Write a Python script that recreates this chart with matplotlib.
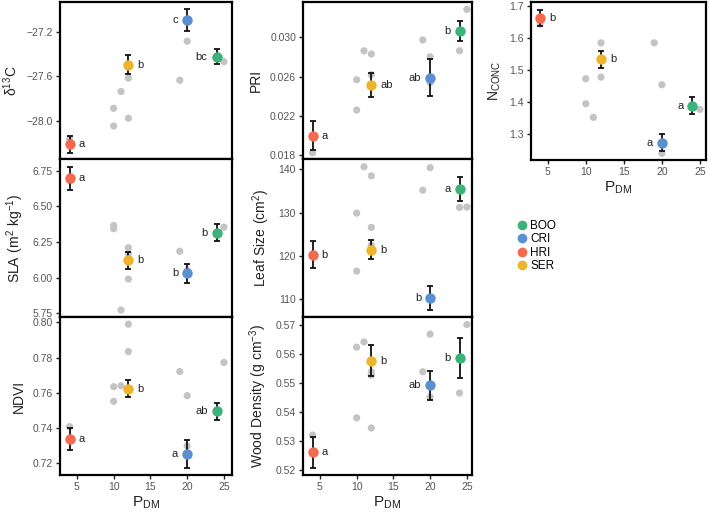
import matplotlib
matplotlib.use("Agg")
import matplotlib.pyplot as plt
from matplotlib.lines import Line2D

plt.rcParams['font.family'] = ['Liberation Sans', 'DejaVu Sans']
plt.rcParams['mathtext.fontset'] = 'custom'
plt.rcParams['mathtext.rm'] = 'Liberation Sans'

# groups: HRI, SER, CRI, BOO
groups = ['HRI', 'SER', 'CRI', 'BOO']
group_x = [4, 12, 20, 24]
colors = {'BOO': '#3bb27a', 'CRI': '#5a8fd0', 'HRI': '#f46a50', 'SER': '#eeb42a'}

# d13C
d13c_mean = [-28.214, -27.494, -27.089, -27.421]
d13c_se = [0.076, 0.085, 0.098, 0.067]
d13c_let = ['a', 'b', 'c', 'bc']
d13c_side = ['r', 'r', 'l', 'l']
d13c_px = [4, 12, 11, 10, 12, 10, 20, 19, 25]
d13c_py = [-28.17, -27.615, -27.736, -27.888, -27.978, -28.048, -27.281, -27.634, -27.466]

# PRI
pri_mean = [0.01997, 0.02514, 0.02588, 0.03067]
pri_se = [0.0015, 0.00124, 0.00187, 0.00104]
pri_let = ['a', 'ab', 'ab', 'b']
pri_side = ['r', 'r', 'l', 'l']
pri_px = [4, 10, 10, 11, 12, 12, 19, 20, 20, 24, 25]
pri_py = [0.01823, 0.02568, 0.02259, 0.02863, 0.0283, 0.0262, 0.02973, 0.02802, 0.02537, 0.02863, 0.03285]

# N concentration
n_mean = [1.6635, 1.534, 1.2729, 1.3885]
n_se = [0.025, 0.027, 0.027, 0.027]
n_let = ['b', 'b', 'a', 'a']
n_side = ['r', 'r', 'l', 'l']
n_px = [4, 12, 12, 10, 10, 11, 19, 20, 20, 25]
n_py = [1.6437, 1.585, 1.478, 1.4728, 1.3947, 1.3522, 1.585, 1.454, 1.2396, 1.3772]

# SLA
sla_mean = [6.697, 6.123, 6.03, 6.315]
sla_se = [0.08, 0.06, 0.065, 0.061]
sla_let = ['a', 'b', 'b', 'b']
sla_side = ['r', 'r', 'l', 'l']
sla_px = [4, 10, 10, 12, 12, 12, 11, 19, 20, 25]
sla_py = [6.68, 6.366, 6.343, 6.21, 6.17, 5.99, 5.773, 6.185, 6.05, 6.354]

# Leaf size
leaf_mean = [120.3, 121.48, 110.3, 135.5]
leaf_se = [3.1, 2.2, 2.8, 2.8]
leaf_let = ['b', 'b', 'b', 'a']
leaf_side = ['r', 'r', 'l', 'l']
leaf_px = [4, 11, 12, 10, 12, 10, 12, 19, 20, 24, 25]
leaf_py = [120.5, 140.6, 138.5, 129.9, 126.6, 116.5, 122.5, 135.2, 140.4, 131.2, 131.3]

# NDVI
ndvi_mean = [0.7338, 0.7624, 0.7253, 0.7496]
ndvi_se = [0.0063, 0.005, 0.008, 0.0049]
ndvi_let = ['a', 'b', 'a', 'ab']
ndvi_side = ['r', 'r', 'l', 'l']
ndvi_px = [4, 12, 12, 10, 11, 10, 19, 20, 20, 25]
ndvi_py = [0.7408, 0.7989, 0.7834, 0.7635, 0.764, 0.7552, 0.7721, 0.7584, 0.7299, 0.7772]

# Wood density
wd_mean = [0.5261, 0.5577, 0.5493, 0.5585]
wd_se = [0.0053, 0.0053, 0.005, 0.0069]
wd_let = ['a', 'b', 'ab', 'b']
wd_side = ['r', 'r', 'l', 'l']
wd_px = [4, 10, 11, 12, 12, 10, 12, 19, 20, 20, 24, 25]
wd_py = [0.5321, 0.5624, 0.5642, 0.5539, 0.5527, 0.538, 0.5345, 0.5539, 0.5669, 0.5452, 0.5466, 0.5702]

xticks = [5, 10, 15, 20, 25]

W, H = 709, 516
fig = plt.figure(figsize=(W / 100, H / 100), dpi=100)


def box(l, t, r, b):
    return [l / W, 1 - b / H, (r - l) / W, (b - t) / H]


def panel(rect, xlim, ylim, yticks, yfmt, ylabel, mean, se, let, side, px, py,
          show_x=False, xlabel=True):
    ax = fig.add_axes(rect)
    ax.scatter(px, py, s=27, color='#c4c4c4', edgecolor='none', zorder=2)
    for g, x, m, e, lt, sd in zip(groups, group_x, mean, se, let, side):
        ax.errorbar(x, m, yerr=e, fmt='none', ecolor='#111111', elinewidth=1.3,
                    capsize=2.0, capthick=1.3, zorder=3)
        ax.plot(x, m, 'o', ms=7.5, color=colors[g], mec='none', zorder=4)
        if sd == 'r':
            ax.annotate(lt, (x, m), xytext=(6.5, 0), textcoords='offset points',
                        ha='left', va='center', fontsize=8, color='#222222')
        else:
            ax.annotate(lt, (x, m), xytext=(-6.5, 0), textcoords='offset points',
                        ha='right', va='center', fontsize=8, color='#222222')
    ax.set_xlim(*xlim)
    ax.set_ylim(*ylim)
    ax.set_xticks(xticks)
    ax.set_yticks(yticks)
    ax.set_yticklabels([yfmt.format(v).replace('-', '\u2212') for v in yticks])
    for s in ax.spines.values():
        s.set_linewidth(1.6)
    ax.tick_params(direction='out', length=3, width=1, colors='#222222',
                   labelcolor='#555555', labelsize=7.5, pad=2)
    ax.tick_params(axis='x', labelbottom=show_x)
    ax.set_ylabel(ylabel, fontsize=10, color='#222222', labelpad=5)
    if show_x and xlabel:
        ax.set_xlabel(r'$\mathregular{P_{DM}}$', fontsize=11, color='#222222', labelpad=2)
    return ax


lx = (2.7, 26.1)
mx = (2.7, 25.7)
rx = (2.8, 25.8)

panel(box(60, 2, 232, 159), lx, (-28.347, -26.926), [-28.0, -27.6, -27.2], '{:.1f}',
      r'$\mathregular{δ^{13}C}$', d13c_mean, d13c_se, d13c_let, d13c_side, d13c_px, d13c_py)
panel(box(60, 159, 232, 317), lx, (5.724, 6.832), [5.75, 6.00, 6.25, 6.50, 6.75], '{:.2f}',
      r'$\mathregular{SLA\ (m^2\ kg^{-1})}$', sla_mean, sla_se, sla_let, sla_side, sla_px, sla_py)
panel(box(60, 317, 232, 475), lx, (0.7134, 0.803), [0.72, 0.74, 0.76, 0.78, 0.80], '{:.2f}',
      'NDVI', ndvi_mean, ndvi_se, ndvi_let, ndvi_side, ndvi_px, ndvi_py, show_x=True)

panel(box(303, 2, 472, 159), mx, (0.0176, 0.0336), [0.018, 0.022, 0.026, 0.030], '{:.3f}',
      'PRI', pri_mean, pri_se, pri_let, pri_side, pri_px, pri_py)
panel(box(303, 159, 472, 317), mx, (105.9, 142.4), [110, 120, 130, 140], '{:.0f}',
      r'$\mathregular{Leaf\ Size\ (cm^2)}$', leaf_mean, leaf_se, leaf_let, leaf_side, leaf_px, leaf_py)
panel(box(303, 317, 472, 475), mx, (0.5183, 0.5728), [0.52, 0.53, 0.54, 0.55, 0.56, 0.57], '{:.2f}',
      r'$\mathregular{Wood\ Density\ (g\ cm^{-3})}$', wd_mean, wd_se, wd_let, wd_side, wd_px, wd_py,
      show_x=True)

panel(box(531, 2, 706, 160), rx, (1.219, 1.7125), [1.3, 1.4, 1.5, 1.6, 1.7], '{:.1f}',
      r'$\mathregular{N_{CONC}}$', n_mean, n_se, n_let, n_side, n_px, n_py, show_x=True)

handles = [Line2D([], [], marker='o', ls='none', ms=7, color=colors[g], mec='none')
           for g in ['BOO', 'CRI', 'HRI', 'SER']]
fig.legend(handles, ['BOO', 'CRI', 'HRI', 'SER'], loc='upper left',
           bbox_to_anchor=(509 / W, 1 - 214 / H), frameon=False, fontsize=8.5,
           handletextpad=0.1, labelspacing=0.12, handlelength=1.2, borderpad=0)

fig.savefig('out.png', dpi=100)
